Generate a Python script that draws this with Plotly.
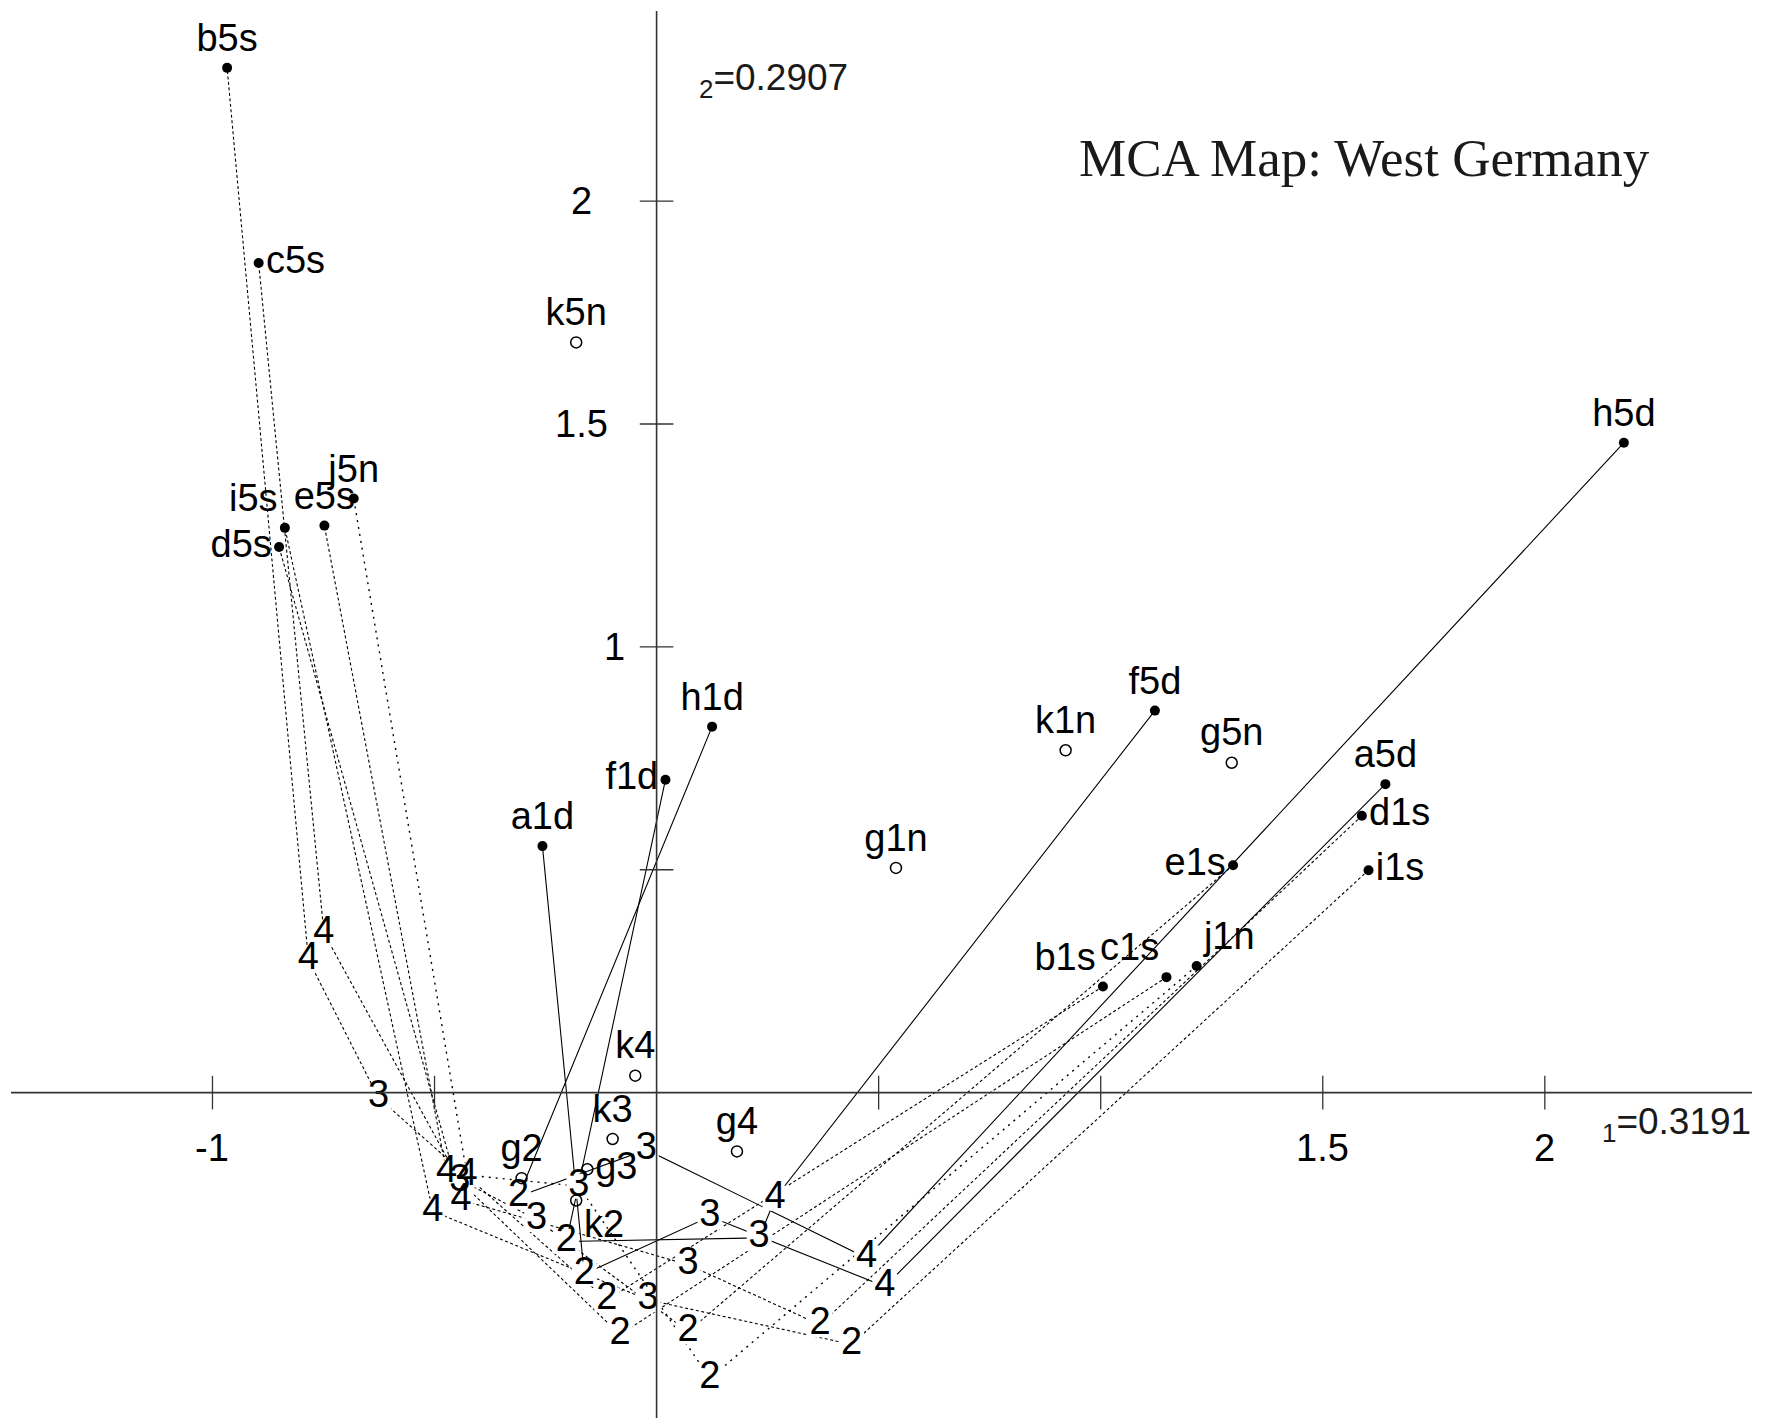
import plotly.graph_objects as go

# ---------------- data (principal coordinates, axis 1 / axis 2) ----------------
# active variables: category 1 .. 5
a_x = [-0.257, -0.163, 0.120, 0.514, 1.641]
a_y = [0.553, -0.407, -0.278, -0.435, 0.692]
b_x = [1.005, -0.112, -0.626, -0.784, -0.967]
b_y = [0.238, -0.465, -0.012, 0.298, 2.299]
c_x = [1.148, -0.082, -0.443, -0.749, -0.896]
c_y = [0.259, -0.543, -0.199, 0.358, 1.861]
d_x = [1.588, 0.368, 0.071, -0.440, -0.850]
d_y = [0.621, -0.521, -0.386, -0.241, 1.224]
e_x = [1.298, 0.071, -0.270, -0.473, -0.748]
e_y = [0.510, -0.536, -0.285, -0.180, 1.272]
f_x = [0.020, -0.203, 0.231, 0.267, 1.122]
f_y = [0.702, -0.334, -0.326, -0.237, 0.857]
h_x = [0.125, -0.311, -0.023, 0.473, 2.178]
h_y = [0.821, -0.233, -0.128, -0.371, 1.458]
i_x = [1.603, 0.439, -0.019, -0.504, -0.837]
i_y = [0.499, -0.565, -0.465, -0.266, 1.267]
j_x = [1.216, 0.120, -0.175, -0.427, -0.682]
j_y = [0.284, -0.641, -0.210, -0.185, 1.333]

variables = ["a", "b", "c", "d", "e", "f", "h", "i", "j"]
cat1_labels = ["a1d", "b1s", "c1s", "d1s", "e1s", "f1d", "h1d", "i1s", "j1n"]
cat5_labels = ["a5d", "b5s", "c5s", "d5s", "e5s", "f5d", "h5d", "i5s", "j5n"]
mid_labels = ["2", "3", "4"]

# supplementary variables (open circles)
g_x = [0.539, -0.304, -0.156, 0.181, 1.295]
g_y = [0.504, -0.192, -0.172, -0.132, 0.740]
g_labels = ["g1n", "g2", "g3", "g4", "g5n"]
k_x = [0.921, -0.181, -0.099, -0.048, -0.181]
k_y = [0.768, -0.242, -0.104, 0.038, 1.683]
k_labels = ["k1n", "k2", "k3", "k4", "k5n"]

x_ticks = [-1, -0.5, 0.5, 1, 1.5, 2]
x_tick_labels = ["-1", "1.5", "2"]
x_tick_label_vals = [-1, 1.5, 2]
y_ticks = [0.5, 1, 1.5, 2]
y_tick_labels = ["1", "1.5", "2"]
y_tick_label_vals = [1, 1.5, 2]

title_text = "MCA Map: West Germany"
lambda1_text = "<sub>1</sub>=0.3191"
lambda2_text = "<sub>2</sub>=0.2907"

# ---------------- styles ----------------
W, H = 1772, 1418
FONT = "Liberation Sans, Arial, sans-serif"
LBL = 38
traj = {"a": (a_x, a_y), "b": (b_x, b_y), "c": (c_x, c_y), "d": (d_x, d_y),
        "e": (e_x, e_y), "f": (f_x, f_y), "h": (h_x, h_y), "i": (i_x, i_y),
        "j": (j_x, j_y)}
DASH = "3px,2.5px"
DOT = "2px,5px"
line_dash = {"a": "solid", "f": "solid", "h": "solid",
             "b": DASH, "c": DASH, "d": DASH, "e": DASH, "i": DASH, "j": DOT}
line_w = {"a": 1.1, "f": 1.1, "h": 1.1, "b": 1.1, "c": 1.1, "d": 1.1, "e": 1.1,
          "i": 1.1, "j": 1.4}
pos1 = {"a": "top center", "b": "top left", "c": "top left", "d": "middle right",
        "e": "middle left", "f": "middle left", "h": "top center",
        "i": "middle right", "j": "top right"}
pos5 = {"a": "top center", "b": "top center", "c": "middle right",
        "d": "middle left", "e": "top center", "f": "top center",
        "h": "top center", "i": "top left", "j": "top center"}
g_pos = ["top center", "top center", "middle right", "top center", "top center"]
k_pos = ["top center", "bottom right", "top center", "top center", "top center"]

fig = go.Figure()

# trajectories
for v in variables:
    xs, ys = traj[v]
    fig.add_trace(go.Scatter(x=xs, y=ys, mode="lines",
                             line=dict(color="black", width=line_w[v], dash=line_dash[v]),
                             hoverinfo="skip"))

# white patches behind intermediate category digits
mx, my, mt = [], [], []
for v in variables:
    xs, ys = traj[v]
    for k in range(1, 4):
        mx.append(xs[k]); my.append(ys[k]); mt.append(mid_labels[k - 1])
fig.add_trace(go.Scatter(x=mx, y=my, mode="markers",
                         marker=dict(symbol="square", size=25, color="white",
                                     line=dict(width=0)),
                         hoverinfo="skip"))

# axis ticks
fig.add_trace(go.Scatter(x=x_ticks, y=[0] * len(x_ticks), mode="markers",
                         marker=dict(symbol="line-ns", size=24,
                                     line=dict(color="#333333", width=1.3)),
                         hoverinfo="skip"))
fig.add_trace(go.Scatter(x=[0] * len(y_ticks), y=y_ticks, mode="markers",
                         marker=dict(symbol="line-ew", size=24,
                                     line=dict(color="#333333", width=1.3)),
                         hoverinfo="skip"))

# digits of categories 2,3,4
fig.add_trace(go.Scatter(x=mx, y=my, mode="text", text=mt,
                         textposition="middle center",
                         textfont=dict(family=FONT, size=LBL, color="black"),
                         hoverinfo="skip"))

# end-category points with labels
for v, l1, l5 in zip(variables, cat1_labels, cat5_labels):
    xs, ys = traj[v]
    fig.add_trace(go.Scatter(x=[xs[0], xs[4]], y=[ys[0], ys[4]],
                             mode="markers+text", text=[l1, l5],
                             textposition=[pos1[v], pos5[v]],
                             textfont=dict(family=FONT, size=LBL, color="black"),
                             marker=dict(symbol="circle", size=10, color="black"),
                             hoverinfo="skip"))

# supplementary points
for sx, sy, sl, sp in [(g_x, g_y, g_labels, g_pos), (k_x, k_y, k_labels, k_pos)]:
    fig.add_trace(go.Scatter(x=sx, y=sy, mode="markers+text", text=sl,
                             textposition=sp,
                             textfont=dict(family=FONT, size=LBL, color="black"),
                             marker=dict(symbol="circle-open", size=11, color="black",
                                         line=dict(width=1.5, color="black")),
                             hoverinfo="skip"))

annotations = []
for lab, val in zip(x_tick_labels, x_tick_label_vals):
    annotations.append(dict(x=val, y=0, xref="x", yref="y", text=lab, showarrow=False,
                            xanchor="center", yanchor="middle",
                            yshift=-55, font=dict(family=FONT, size=38, color="black")))
y_label_shift = [-42, -75, -75]
for lab, val, sh in zip(y_tick_labels, y_tick_label_vals, y_label_shift):
    annotations.append(dict(x=0, y=val, xref="x", yref="y", text=lab, showarrow=False,
                            xanchor="center", yanchor="middle",
                            xshift=sh, font=dict(family=FONT, size=38, color="black")))
annotations.append(dict(x=1364 / W, y=1 - 158 / H, xref="paper", yref="paper",
                        text=title_text, showarrow=False,
                        xanchor="center", yanchor="middle",
                        font=dict(family="Liberation Serif, Times New Roman, serif",
                                  size=53, color="#1a1a1a")))
annotations.append(dict(x=1676 / W, y=1 - 1124 / H, xref="paper", yref="paper",
                        text=lambda1_text, showarrow=False,
                        xanchor="center", yanchor="middle",
                        font=dict(family=FONT, size=37, color="#1a1a1a")))
annotations.append(dict(x=773 / W, y=1 - 80 / H, xref="paper", yref="paper",
                        text=lambda2_text, showarrow=False,
                        xanchor="center", yanchor="middle",
                        font=dict(family=FONT, size=37, color="#1a1a1a")))

shapes = [
    dict(type="line", xref="paper", yref="y", x0=11 / W, x1=1752 / W, y0=0, y1=0,
         line=dict(color="#333333", width=1.6), layer="above"),
    dict(type="line", xref="x", yref="paper", x0=0, x1=0, y0=0, y1=1 - 11 / H,
         line=dict(color="#333333", width=1.6), layer="above"),
]

fig.update_layout(
    width=W, height=H, margin=dict(l=0, r=0, t=0, b=0),
    paper_bgcolor="white", plot_bgcolor="white", showlegend=False,
    xaxis=dict(range=[-1.4784, 2.5115], visible=False, fixedrange=True),
    yaxis=dict(range=[-0.730, 2.4512], visible=False, fixedrange=True),
    annotations=annotations, shapes=shapes,
)

fig.write_html("out.html")
